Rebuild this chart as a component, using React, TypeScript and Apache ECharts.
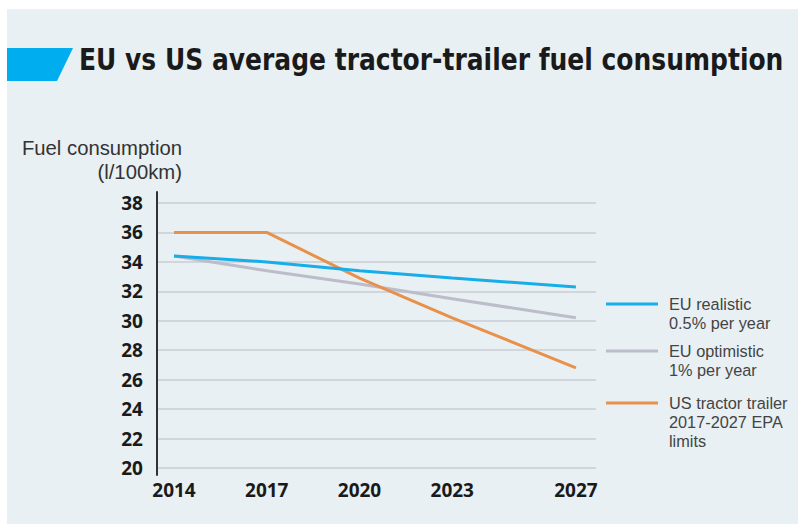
import React, { useEffect, useRef } from "react";
import * as echarts from "echarts";

const title = "EU vs US average tractor-trailer fuel consumption";
const yAxisName = "Fuel consumption\n(l/100km)";
const years = [2014, 2017, 2020, 2023, 2027];
const xTickLabels = ["2014", "2017", "2020", "2023", "2027"];
const seriesNames = [
  "EU realistic\n0.5% per year",
  "EU optimistic\n1% per year",
  "US tractor trailer\n2017-2027 EPA\nlimits",
];
const euRealistic = [34.4, 34.0, 33.4, 32.9, 32.3];
const euOptimistic = [34.4, 33.4, 32.5, 31.5, 30.2];
const usEpa = [36, 36, 32.9, 30.2, 26.8];
const colors = ["#16ade9", "#bcbcca", "#e8914a"];

const FONT = "'Noto Sans', 'Open Sans', sans-serif";
const TEXT_FONT = "'Liberation Sans', Arial, sans-serif";

export default function App() {
  const ref = useRef<HTMLDivElement>(null);
  useEffect(() => {
    if (!ref.current) return;
    const chart = echarts.init(ref.current, undefined, { renderer: "svg" });
    const values = [euRealistic, euOptimistic, usEpa];
    const legendIconY = [304, 351, 403];
    const lineH = 19;
    const legendGraphics: any[] = [];
    seriesNames.forEach((name, i) => {
      const y = legendIconY[i];
      legendGraphics.push({
        type: "line",
        shape: { x1: 606, y1: y, x2: 658, y2: y },
        style: { stroke: colors[i], lineWidth: 3 },
      });
      legendGraphics.push({
        type: "text",
        x: 669,
        y: y - lineH / 2,
        style: {
          text: name,
          fill: "#444",
          fontSize: 16.3,
          fontFamily: TEXT_FONT,
          lineHeight: lineH,
          verticalAlign: "top",
          align: "left",
        },
      });
    });
    chart.setOption({
      animation: false,
      backgroundColor: "#ffffff",
      graphic: [
        {
          type: "rect",
          shape: { x: 7, y: 9, width: 791, height: 515 },
          style: { fill: "#e8f0f3" },
          z: -10,
        },
        {
          type: "polygon",
          shape: { points: [[7, 48], [73, 48], [57, 81], [7, 81]] },
          style: { fill: "#00adef" },
        },
        {
          type: "text",
          x: 79,
          y: 60,
          scaleX: 0.926,
          style: {
            text: title,
            font: "bold 30px 'Liberation Sans Narrow', 'DejaVu Sans Condensed', sans-serif",
            fill: "#1a1a1a",
            verticalAlign: "middle",
          },
        },
        ...legendGraphics,
      ],
      grid: [
        { left: 157, right: 202, top: 203, bottom: 56 },
        { left: 157, right: 202, top: 192, bottom: 49 },
      ],
      xAxis: [
        {
          type: "value",
          gridIndex: 0,
          min: 2013.45,
          max: 2027.65,
          axisLine: { show: false },
          axisTick: { show: false, customValues: years },
          splitLine: { show: false },
          axisLabel: {
            customValues: years,
            formatter: (v: number) => xTickLabels[years.indexOf(v)] ?? "",
            color: "#1a1a1a",
            fontWeight: "bold",
            fontSize: 19,
            fontFamily: FONT,
            margin: 12,
          },
        },
        { type: "value", gridIndex: 1, show: false },
      ],
      yAxis: [
        {
          type: "value",
          gridIndex: 0,
          min: 20,
          max: 38,
          interval: 2,
          name: yAxisName,
          nameLocation: "end",
          nameGap: 19,
          nameTextStyle: {
            align: "right",
            verticalAlign: "bottom",
            color: "#333",
            fontSize: 20.3,
            fontFamily: TEXT_FONT,
            lineHeight: 24,
            padding: [0, -25, 0, 0],
          },
          axisLine: { show: false },
          axisTick: { show: false },
          splitLine: { lineStyle: { color: "#c9ced3", width: 1.5 } },
          axisLabel: {
            color: "#1a1a1a",
            fontWeight: "bold",
            fontSize: 19,
            fontFamily: FONT,
            margin: 14,
          },
        },
        {
          type: "value",
          gridIndex: 1,
          min: 0,
          max: 1,
          axisLine: { show: true, lineStyle: { color: "#333", width: 2 } },
          axisTick: { show: false },
          axisLabel: { show: false },
          splitLine: { show: false },
        },
      ],
      series: seriesNames.map((name, i) => ({
        name,
        type: "line",
        xAxisIndex: 0,
        yAxisIndex: 0,
        data: years.map((y, j) => [y, values[i][j]]),
        symbol: "none",
        color: colors[i],
        lineStyle: { color: colors[i], width: 3 },
        z: i === 0 ? 4 : i === 2 ? 3 : 2,
      })),
    });
    return () => chart.dispose();
  }, []);
  return (
    <div style={{ position: "fixed", left: 0, top: 0, width: 798, height: 524 }}>
      <div ref={ref} style={{ width: 798, height: 524 }} />
    </div>
  );
}
